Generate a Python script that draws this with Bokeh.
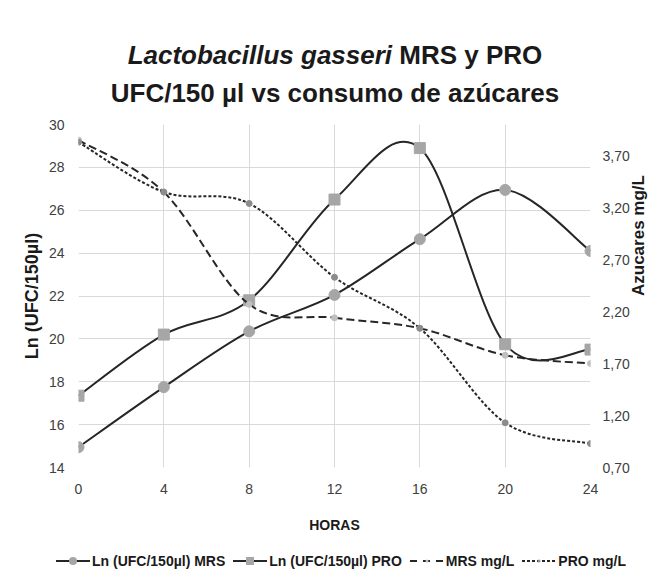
import math
from bokeh.plotting import figure
from bokeh.layouts import column
from bokeh.models import Range1d, LinearAxis, FixedTicker, ColumnDataSource, Div
from bokeh.embed import file_html
from bokeh.resources import INLINE

# ---------------- data ----------------
horas = [0, 4, 8, 12, 16, 20, 24]
ln_mrs = [14.95, 17.75, 20.35, 22.05, 24.65, 26.95, 24.1]
ln_pro = [17.35, 20.2, 21.8, 26.5, 28.9, 19.75, 19.5]
mrs_mgl = [3.85, 3.35, 2.27, 2.14, 2.04, 1.78, 1.70]
pro_mgl = [3.83, 3.35, 3.24, 2.53, 2.04, 1.13, 0.93]

x_ticks = [0, 4, 8, 12, 16, 20, 24]
left_ticks = [14, 16, 18, 20, 22, 24, 26, 28, 30]
right_ticks = [0.7, 1.2, 1.7, 2.2, 2.7, 3.2, 3.7]
right_tick_labels = ["0,70", "1,20", "1,70", "2,20", "2,70", "3,20", "3,70"]

series_names = ["Ln (UFC/150\u00b5l) MRS", "Ln (UFC/150\u00b5l) PRO", "MRS mg/L", "PRO mg/L"]
title_italic = "Lactobacillus gasseri"
title_rest = " MRS y PRO"
title_line2 = "UFC/150 \u00b5l vs consumo de az\u00facares"
x_title = "HORAS"
y_title = "Ln (UFC/150\u00b5l)"
y2_title = "Azucares mg/L"

FONT = "Liberation Sans"
LINE = "#262626"
MARK = "#a6a6a6"
TXT = "#1a1a1a"


def smooth(xs, ys):
    """Excel-like smoothing: cubic Bezier segments through the data points."""
    n = len(xs)
    d = dict(x0=[], y0=[], x1=[], y1=[], cx0=[], cy0=[], cx1=[], cy1=[])
    for i in range(n - 1):
        xp, yp = (xs[i - 1], ys[i - 1]) if i > 0 else (xs[i], ys[i])
        xn, yn = (xs[i + 2], ys[i + 2]) if i + 2 < n else (xs[i + 1], ys[i + 1])
        d["x0"].append(xs[i]); d["y0"].append(ys[i])
        d["x1"].append(xs[i + 1]); d["y1"].append(ys[i + 1])
        d["cx0"].append(xs[i] + (xs[i + 1] - xp) / 6.0)
        d["cy0"].append(ys[i] + (ys[i + 1] - yp) / 6.0)
        d["cx1"].append(xs[i + 1] - (xn - xs[i]) / 6.0)
        d["cy1"].append(ys[i + 1] - (yn - ys[i]) / 6.0)
    return ColumnDataSource(d)


title_html = (
    f'<div style="width:650px;font-family:\'{FONT}\';font-size:26px;font-weight:bold;'
    f'line-height:38px;text-align:center;color:{TXT};padding-top:36px;'
    f'position:relative;left:10px;">'
    f'<i>{title_italic}</i>{title_rest}<br>{title_line2}</div>'
)
div = Div(text=title_html, width=650, height=112, margin=(0, 0, 0, 0))

p = figure(frame_width=512, frame_height=343, x_range=Range1d(0, 24), y_range=Range1d(14, 30),
           output_backend="svg", toolbar_location=None, title=None,
           min_border_left=78, min_border_right=30, min_border_top=12, min_border_bottom=10)
p.extra_y_ranges = {"az": Range1d(0.7, 4.0)}
p.outline_line_color = None
p.background_fill_color = "white"

# axes (take references before adding the right-hand axes)
xa = p.xaxis[0]
yl = p.yaxis[0]
xa.ticker = FixedTicker(ticks=x_ticks)
yl.ticker = FixedTicker(ticks=left_ticks)
yr = LinearAxis(y_range_name="az", ticker=FixedTicker(ticks=right_ticks))
yr.major_label_overrides = {t: s for t, s in zip(right_ticks, right_tick_labels)}
p.add_layout(yr, "right")
yr_title = LinearAxis(y_range_name="az", ticker=FixedTicker(ticks=[]), axis_label=y2_title)
p.add_layout(yr_title, "right")

for ax in [xa, yl, yr, yr_title]:
    ax.axis_line_color = None
    ax.major_tick_line_color = None
    ax.minor_tick_line_color = None
    ax.major_tick_out = 0
    ax.minor_tick_out = 0
    ax.major_label_text_font = FONT
    ax.major_label_text_font_size = "14px"
    ax.major_label_text_color = "#404040"
    ax.axis_label_text_font = FONT
    ax.axis_label_text_font_style = "bold"
    ax.axis_label_text_color = TXT

xa.major_label_standoff = 16
xa.axis_label = x_title
xa.axis_label_text_font_size = "14px"
xa.axis_label_standoff = 20
yl.major_label_standoff = 14
yl.axis_label = y_title
yl.axis_label_text_font_size = "18px"
yl.axis_label_standoff = 4
yr.major_label_standoff = 12
yr_title.major_label_standoff = 0
yr_title.axis_label_text_font_size = "17px"
yr_title.axis_label_standoff = 6
if "axis_label_orientation" in yr_title.properties():
    yr_title.axis_label_orientation = math.pi / 2

p.xgrid.ticker = FixedTicker(ticks=x_ticks)
p.ygrid.ticker = FixedTicker(ticks=left_ticks)
p.xgrid.grid_line_color = "#d9d9d9"
p.ygrid.grid_line_color = "#d9d9d9"

# series
styles = [
    dict(line_dash="solid", marker="circle", size=11, color=MARK, svg_dash="none"),
    dict(line_dash="solid", marker="square", size=11, color=MARK, svg_dash="none"),
    dict(line_dash="8 4", marker="circle", size=6, color="#bfbfbf", svg_dash="7 6"),
    dict(line_dash="3 2", marker="circle", size=6, color="#8c8c8c", svg_dash="3 2"),
]
series = [ln_mrs, ln_pro, mrs_mgl, pro_mgl]
ranges = ["default", "default", "az", "az"]

for ys, st, rn in zip(series, styles, ranges):
    p.bezier("x0", "y0", "x1", "y1", "cx0", "cy0", "cx1", "cy1", source=smooth(horas, ys),
             line_color=LINE, line_width=2, line_dash=st["line_dash"], y_range_name=rn)
    p.scatter(horas, ys, marker=st["marker"], size=st["size"], fill_color=st["color"],
              line_color=st["color"], y_range_name=rn)

# legend strip (HTML so that it may be wider than the plot frame)
parts = []
for name, st in zip(series_names, styles):
    s = st["size"] - 3
    if st["marker"] == "square":
        mk = f'<rect x="{17 - s / 2}" y="{8 - s / 2}" width="{s}" height="{s}" fill="{st["color"]}"/>'
    else:
        mk = f'<circle cx="17" cy="8" r="{s / 2}" fill="{st["color"]}"/>'
    dash = "" if st["svg_dash"] == "none" else f' stroke-dasharray="{st["svg_dash"]}"'
    parts.append(
        '<span style="display:inline-flex;align-items:center;gap:2px;">'
        f'<svg width="34" height="16"><line x1="0" y1="8" x2="34" y2="8" stroke="{LINE}" '
        f'stroke-width="2"{dash}/>{mk}</svg>{name}</span>'
    )
legend_html = (
    f'<div style="width:650px;height:52px;box-sizing:border-box;padding-left:32px;'
    f'display:flex;align-items:center;justify-content:center;gap:8px;'
    f'font-family:\'{FONT}\';font-size:14px;font-weight:bold;color:{TXT};">'
    + "".join(parts) + '</div>'
)
leg = Div(text=legend_html, width=650, height=52, margin=(0, 0, 0, 0))

layout = column(div, p, leg, spacing=0)
open("out.html", "w").write(file_html(layout, INLINE))
